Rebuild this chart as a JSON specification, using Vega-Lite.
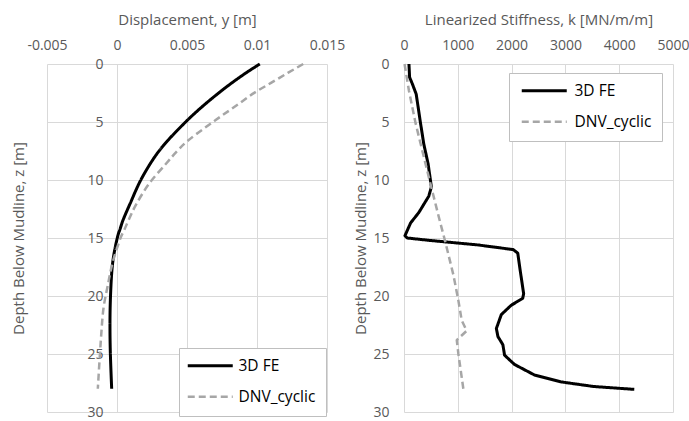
{
  "$schema": "https://vega.github.io/schema/vega-lite/v6.json",
  "padding": {"left": 11, "top": 12, "right": 0, "bottom": 0},
  "spacing": 8,
  "config": {
    "view": {"stroke": null},
    "font": "Open Sans",
    "axis": {
      "labelColor": "#595959", "titleColor": "#595959",
      "labelFontSize": 14, "titleFontSize": 15, "titleFontWeight": "normal",
      "gridColor": "#d9d9d9", "gridWidth": 1, "domain": false, "ticks": false,
      "labelFlush": false, "labelOverlap": false
    },
    "legend": {
      "fillColor": "white", "strokeColor": "#bfbfbf", "padding": 10,
      "labelFontSize": 15.5, "labelColor": "#000000", "labelFont": "Open Sans",
      "rowPadding": 14, "symbolType": "M-2,0H8", "symbolSize": 81, "labelOffset": 34
    }
  },
  "resolve": {"scale": {"color": "independent", "strokeDash": "independent", "strokeWidth": "independent"}},
  "hconcat": [
    {
      "width": 280, "height": 348,
      "data": {"values": [
        {"series": "3D FE", "z": 0, "y": 0.0102},
        {"series": "3D FE", "z": 0.86, "y": 0.0091},
        {"series": "3D FE", "z": 1.9, "y": 0.0079},
        {"series": "3D FE", "z": 2.95, "y": 0.0068},
        {"series": "3D FE", "z": 3.98, "y": 0.0058},
        {"series": "3D FE", "z": 5.0, "y": 0.0049},
        {"series": "3D FE", "z": 6.5, "y": 0.0037},
        {"series": "3D FE", "z": 8, "y": 0.0027},
        {"series": "3D FE", "z": 10, "y": 0.0017},
        {"series": "3D FE", "z": 12, "y": 0.00095},
        {"series": "3D FE", "z": 13.4, "y": 0.00045},
        {"series": "3D FE", "z": 14.3, "y": 0.0002},
        {"series": "3D FE", "z": 14.8, "y": 0.00006},
        {"series": "3D FE", "z": 16.2, "y": -0.00019},
        {"series": "3D FE", "z": 17.6, "y": -0.00035},
        {"series": "3D FE", "z": 19.6, "y": -0.00045},
        {"series": "3D FE", "z": 21.9, "y": -0.0005},
        {"series": "3D FE", "z": 24.7, "y": -0.00048},
        {"series": "3D FE", "z": 28, "y": -0.00038},
        {"series": "DNV_cyclic", "z": 0, "y": 0.0133},
        {"series": "DNV_cyclic", "z": 0.77, "y": 0.0122},
        {"series": "DNV_cyclic", "z": 1.63, "y": 0.011},
        {"series": "DNV_cyclic", "z": 2.49, "y": 0.0098},
        {"series": "DNV_cyclic", "z": 3.49, "y": 0.00864},
        {"series": "DNV_cyclic", "z": 4.48, "y": 0.00746},
        {"series": "DNV_cyclic", "z": 5.48, "y": 0.0063},
        {"series": "DNV_cyclic", "z": 6.57, "y": 0.0051},
        {"series": "DNV_cyclic", "z": 7.5, "y": 0.0043},
        {"series": "DNV_cyclic", "z": 8.6, "y": 0.0035},
        {"series": "DNV_cyclic", "z": 10.3, "y": 0.0023},
        {"series": "DNV_cyclic", "z": 12.1, "y": 0.00137},
        {"series": "DNV_cyclic", "z": 13.4, "y": 0.00085},
        {"series": "DNV_cyclic", "z": 14.3, "y": 0.00052},
        {"series": "DNV_cyclic", "z": 15.1, "y": 0.00022},
        {"series": "DNV_cyclic", "z": 17.1, "y": -0.00031},
        {"series": "DNV_cyclic", "z": 19.1, "y": -0.00066},
        {"series": "DNV_cyclic", "z": 21.1, "y": -0.00097},
        {"series": "DNV_cyclic", "z": 23.4, "y": -0.00113},
        {"series": "DNV_cyclic", "z": 25.6, "y": -0.00125},
        {"series": "DNV_cyclic", "z": 28, "y": -0.00137}
      ]},
      "mark": {"type": "line", "interpolate": "cardinal", "strokeCap": "butt"},
      "encoding": {
        "x": {"field": "y", "type": "quantitative",
          "scale": {"domain": [-0.005, 0.015], "nice": false, "zero": false},
          "axis": {"orient": "top", "title": "Displacement, y [m]", "values": [-0.005, 0, 0.005, 0.01, 0.015],
            "labelExpr": "toString(datum.value)", "labelFlush": false, "labelAlign": "center",
            "labelPadding": 12, "titlePadding": 11}},
        "y": {"field": "z", "type": "quantitative",
          "scale": {"domain": [0, 30], "reverse": true, "nice": false, "zero": false},
          "axis": {"values": [0, 5, 10, 15, 20, 25, 30], "offset": -69, "labelPadding": 13,
            "title": "Depth Below Mudline, z [m]", "titleX": -98, "titleY": 174, "titleAngle": -90,
            "titleBaseline": "middle", "titleAlign": "center"}},
        "order": {"field": "z", "type": "quantitative"},
        "color": {"field": "series", "type": "nominal",
          "scale": {"domain": ["3D FE", "DNV_cyclic"], "range": ["#000000", "#a6a6a6"]},
          "legend": {"orient": "none", "legendX": 132, "legendY": 284, "title": null}},
        "strokeDash": {"field": "series", "type": "nominal",
          "scale": {"domain": ["3D FE", "DNV_cyclic"], "range": [[1, 0], [7, 4]]},
          "legend": {"orient": "none", "legendX": 132, "legendY": 284, "title": null}},
        "strokeWidth": {"field": "series", "type": "nominal",
          "scale": {"domain": ["3D FE", "DNV_cyclic"], "range": [3, 2.5]},
          "legend": {"orient": "none", "legendX": 132, "legendY": 284, "title": null}}
      }
    },
    {
      "width": 269, "height": 348,
      "data": {"values": [
        {"series": "3D FE", "z": 0, "k": 92},
        {"series": "3D FE", "z": 1.15, "k": 104},
        {"series": "3D FE", "z": 1.7, "k": 154},
        {"series": "3D FE", "z": 2.6, "k": 227},
        {"series": "3D FE", "z": 5.1, "k": 307},
        {"series": "3D FE", "z": 6.9, "k": 368},
        {"series": "3D FE", "z": 8.6, "k": 448},
        {"series": "3D FE", "z": 10.6, "k": 509},
        {"series": "3D FE", "z": 11.4, "k": 460},
        {"series": "3D FE", "z": 12.8, "k": 276},
        {"series": "3D FE", "z": 13.7, "k": 123},
        {"series": "3D FE", "z": 14.8, "k": 18},
        {"series": "3D FE", "z": 15.0, "k": 60},
        {"series": "3D FE", "z": 15.2, "k": 460},
        {"series": "3D FE", "z": 15.6, "k": 1378},
        {"series": "3D FE", "z": 16.0, "k": 2030},
        {"series": "3D FE", "z": 16.3, "k": 2114},
        {"series": "3D FE", "z": 17.9, "k": 2163},
        {"series": "3D FE", "z": 19.8, "k": 2224},
        {"series": "3D FE", "z": 20.2, "k": 2206},
        {"series": "3D FE", "z": 20.8, "k": 1992},
        {"series": "3D FE", "z": 21.6, "k": 1809},
        {"series": "3D FE", "z": 22.8, "k": 1717},
        {"series": "3D FE", "z": 23.5, "k": 1746},
        {"series": "3D FE", "z": 24.2, "k": 1838},
        {"series": "3D FE", "z": 25.1, "k": 1869},
        {"series": "3D FE", "z": 25.9, "k": 2053},
        {"series": "3D FE", "z": 26.8, "k": 2421},
        {"series": "3D FE", "z": 27.4, "k": 2911},
        {"series": "3D FE", "z": 27.8, "k": 3523},
        {"series": "3D FE", "z": 28.05, "k": 4280},
        {"series": "DNV_cyclic", "z": 0, "k": 10},
        {"series": "DNV_cyclic", "z": 2.3, "k": 92},
        {"series": "DNV_cyclic", "z": 5.1, "k": 215},
        {"series": "DNV_cyclic", "z": 8.0, "k": 368},
        {"series": "DNV_cyclic", "z": 10.9, "k": 522},
        {"series": "DNV_cyclic", "z": 13.7, "k": 675},
        {"series": "DNV_cyclic", "z": 15.3, "k": 766},
        {"series": "DNV_cyclic", "z": 18.2, "k": 919},
        {"series": "DNV_cyclic", "z": 20.4, "k": 1011},
        {"series": "DNV_cyclic", "z": 22.1, "k": 1073},
        {"series": "DNV_cyclic", "z": 23.0, "k": 1165},
        {"series": "DNV_cyclic", "z": 23.8, "k": 981},
        {"series": "DNV_cyclic", "z": 25.0, "k": 1011},
        {"series": "DNV_cyclic", "z": 28.0, "k": 1103}
      ]},
      "mark": {"type": "line", "strokeCap": "butt", "strokeJoin": "round"},
      "encoding": {
        "x": {"field": "k", "type": "quantitative",
          "scale": {"domain": [0, 5000], "nice": false},
          "axis": {"orient": "top", "title": "Linearized Stiffness, k [MN/m/m]", "values": [0, 1000, 2000, 3000, 4000, 5000],
            "format": "d", "labelFlush": false, "labelAlign": "center", "labelPadding": 12, "titlePadding": 11}},
        "y": {"field": "z", "type": "quantitative",
          "scale": {"domain": [0, 30], "reverse": true, "nice": false, "zero": false},
          "axis": {"values": [0, 5, 10, 15, 20, 25, 30], "labelPadding": 15, "titlePadding": 4,
            "title": "Depth Below Mudline, z [m]"}},
        "order": {"field": "z", "type": "quantitative"},
        "color": {"field": "series", "type": "nominal",
          "scale": {"domain": ["3D FE", "DNV_cyclic"], "range": ["#000000", "#a6a6a6"]},
          "legend": {"orient": "none", "legendX": 105, "legendY": 9, "title": null, "symbolOffset": 4, "labelOffset": 36}},
        "strokeDash": {"field": "series", "type": "nominal",
          "scale": {"domain": ["3D FE", "DNV_cyclic"], "range": [[1, 0], [7, 4]]},
          "legend": {"orient": "none", "legendX": 105, "legendY": 9, "title": null, "symbolOffset": 4, "labelOffset": 36}},
        "strokeWidth": {"field": "series", "type": "nominal",
          "scale": {"domain": ["3D FE", "DNV_cyclic"], "range": [3, 2.5]},
          "legend": {"orient": "none", "legendX": 105, "legendY": 9, "title": null, "symbolOffset": 4, "labelOffset": 36}}
      }
    }
  ]
}
